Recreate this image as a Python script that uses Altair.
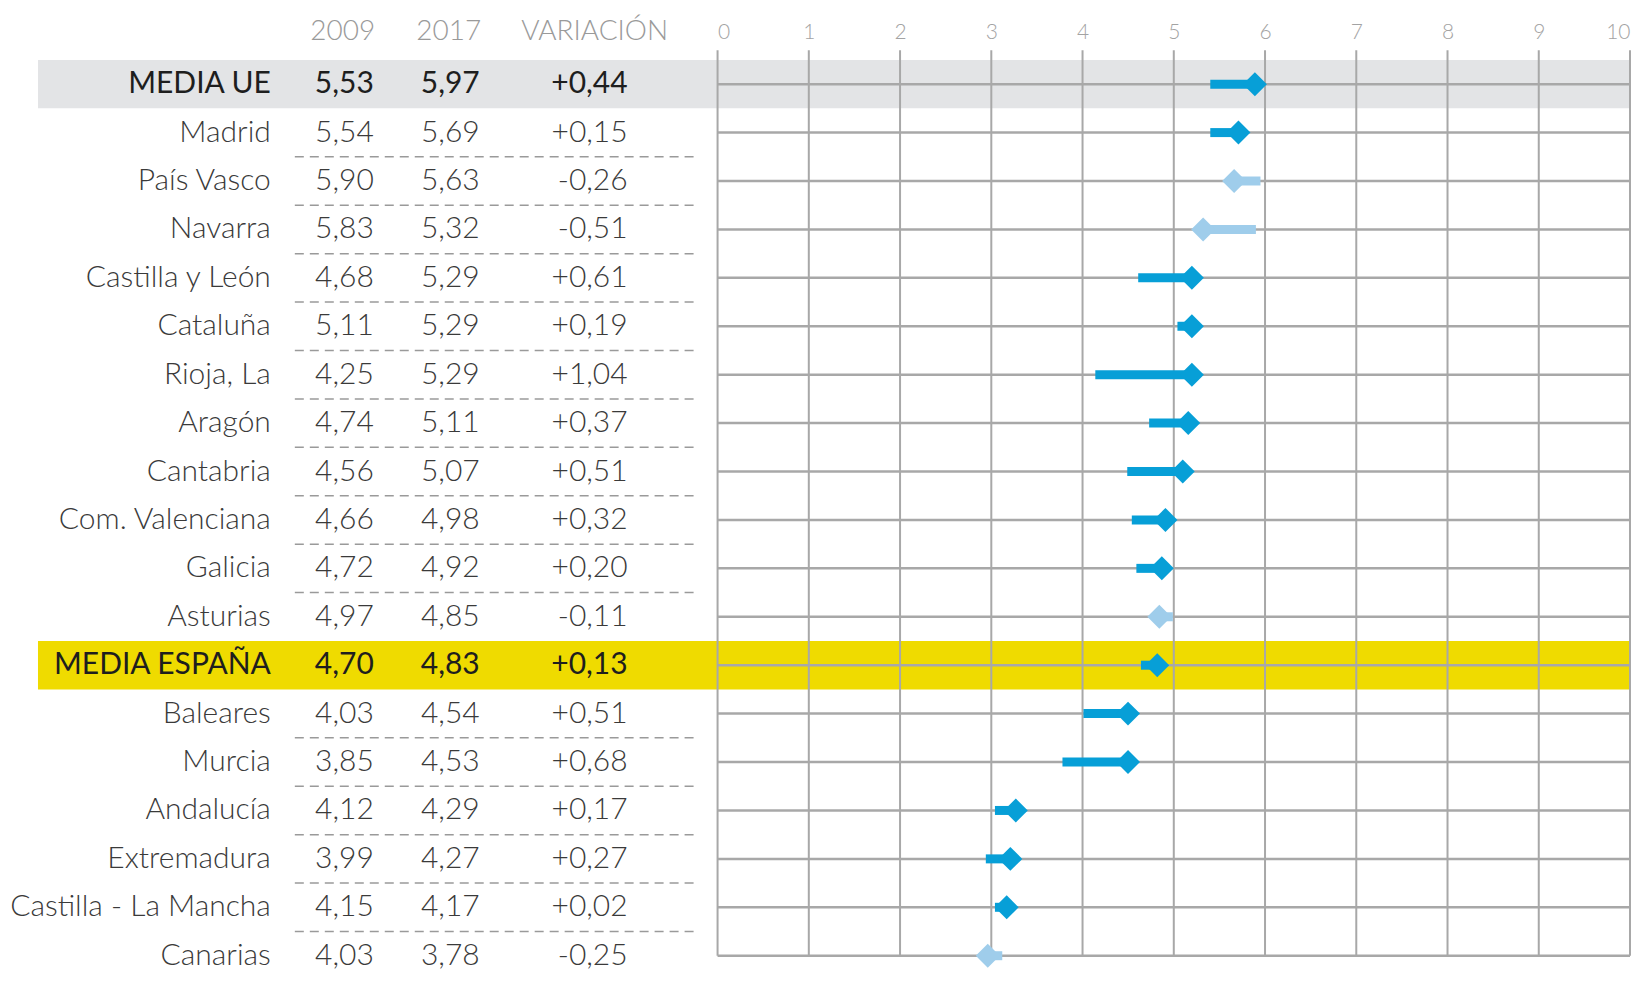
import altair as alt
import pandas as pd

regions = ["MEDIA UE", "Madrid", "País Vasco", "Navarra", "Castilla y León", "Cataluña",
           "Rioja, La", "Aragón", "Cantabria", "Com. Valenciana", "Galicia", "Asturias",
           "MEDIA ESPAÑA", "Baleares", "Murcia", "Andalucía", "Extremadura",
           "Castilla - La Mancha", "Canarias"]
v2009 = [5.53, 5.54, 5.90, 5.83, 4.68, 5.11, 4.25, 4.74, 4.56, 4.66, 4.72, 4.97,
         4.70, 4.03, 3.85, 4.12, 3.99, 4.15, 4.03]
v2017 = [5.97, 5.69, 5.63, 5.32, 5.29, 5.29, 5.29, 5.11, 5.07, 4.98, 4.92, 4.85,
         4.83, 4.54, 4.53, 4.29, 4.27, 4.17, 3.78]
variation = [0.44, 0.15, -0.26, -0.51, 0.61, 0.19, 1.04, 0.37, 0.51, 0.32, 0.20, -0.11,
             0.13, 0.51, 0.68, 0.17, 0.27, 0.02, -0.25]
# arrow start / tip positions as drawn in the picture
arrow_from = [5.40, 5.40, 5.95, 5.90, 4.61, 5.04, 4.14, 4.73, 4.49, 4.54, 4.59, 4.99,
              4.64, 4.01, 3.78, 3.04, 2.94, 3.04, 3.12]
arrow_to = [6.02, 5.84, 5.53, 5.19, 5.33, 5.33, 5.33, 5.29, 5.23, 5.04, 5.00, 4.71,
            4.95, 4.63, 4.63, 3.40, 3.34, 3.30, 2.83]
highlight_rows = ["MEDIA UE", "MEDIA ESPAÑA"]
highlight_colors = ["#e3e4e6", "#efdb00"]
headers = ["2009", "2017", "VARIACIÓN"]
ticks = list(range(0, 11))

def fmt(v, sign=False):
    s = f"{v:+.2f}" if sign else f"{v:.2f}"
    return s.replace(".", ",")

n = len(regions)
df = pd.DataFrame({
    "idx": list(range(n)),
    "region": regions,
    "t2009": [fmt(v) for v in v2009],
    "t2017": [fmt(v) for v in v2017],
    "tvar": [fmt(v, True) for v in variation],
    "afrom": arrow_from,
    "ato": arrow_to,
})
df["dir"] = ["up" if b >= a else "down" for a, b in zip(arrow_from, arrow_to)]
df["hl"] = df["region"].isin(highlight_rows)
df["lo"] = df["idx"] - 0.5
df["hi"] = df["idx"] + 0.5

# dashed separators between consecutive non-highlighted rows
sep = pd.DataFrame({"mid": [i + 0.5 for i in range(n - 1)
                            if regions[i] not in highlight_rows and regions[i + 1] not in highlight_rows]})

W, H = 913, 906
xs = alt.Scale(domain=[0, 10], nice=False, zero=False)
ys = alt.Scale(domain=[-0.7, 18], nice=False, zero=False, reverse=True)

FONT = "Lato"
base = alt.Chart(df)

bands = base.transform_filter("datum.hl").mark_rect().encode(
    y=alt.Y("lo:Q", scale=ys, axis=None), y2="hi:Q",
    x=alt.value(-680), x2=alt.value(W),
    color=alt.Color("region:N", scale=alt.Scale(domain=highlight_rows, range=highlight_colors), legend=None),
)

vgrid = alt.Chart(pd.DataFrame({"g": ticks})).mark_rule(color="#a8a8a8", strokeWidth=2).encode(
    x=alt.X("g:Q", scale=xs, axis=alt.Axis(orient="top", values=ticks, format="d", grid=False, ticks=False,
                                            domain=False, labelFontSize=21, labelColor="#a3a3a3",
                                            labelFont=FONT, labelFontWeight=300, labelPadding=8, title=None)),
    y=alt.value(0), y2=alt.value(H),
)

hgrid = base.mark_rule(color="#a8a8a8", strokeWidth=2.5).encode(
    y=alt.Y("idx:Q", scale=ys, axis=None), x=alt.value(0), x2=alt.value(W),
)

dashes = alt.Chart(sep).mark_rule(color="#9a9a9a", strokeWidth=1.5, strokeDash=[9, 6]).encode(
    y=alt.Y("mid:Q", scale=ys, axis=None), x=alt.value(-423), x2=alt.value(-21),
)

def text_layers(field, xpx):
    out = []
    for hl, weight, col in [(False, 300, "#3a3a3a"), (True, 400, "#1e1e1e")]:
        out.append(base.transform_filter(f"datum.hl == {str(hl).lower()}").mark_text(
            align="right", baseline="middle", font=FONT, fontSize=30, fontWeight=weight, color=col
        ).encode(x=alt.value(xpx), y=alt.Y("idx:Q", scale=ys, axis=None), text=f"{field}:N"))
    return out

texts = []
texts += text_layers("region", -447)
texts += text_layers("t2009", -344)
texts += text_layers("t2017", -238)
texts += text_layers("tvar", -90)

header_layers = []
for h, xpx in zip(headers, [-375, -269, -123]):
    header_layers.append(alt.Chart(pd.DataFrame({"h": [h]})).mark_text(
        align="center", baseline="middle", font=FONT, fontSize=28, fontWeight=300, color="#9a9a9a"
    ).encode(text="h:N", x=alt.value(xpx), y=alt.value(-18)))

DARK = "#079fd7"
LIGHT = "#9fcdeb"
HEAD_UP = "M0,0 L-1,-1 L-2,0 L-1,1 Z"
HEAD_DOWN = "M0,0 L1,-1 L2,0 L1,1 Z"

arrows = []
for d, col, off, shape in [("up", DARK, -12, HEAD_UP), ("down", LIGHT, 12, HEAD_DOWN)]:
    sub = base.transform_filter(f"datum.dir == '{d}'")
    arrows.append(sub.mark_rule(color=col, strokeWidth=9, x2Offset=off).encode(
        x=alt.X("afrom:Q", scale=xs), x2="ato:Q", y=alt.Y("idx:Q", scale=ys, axis=None)))
    arrows.append(sub.mark_point(shape=shape, size=576, filled=True, opacity=1, color=col, strokeWidth=0).encode(
        x=alt.X("ato:Q", scale=xs), y=alt.Y("idx:Q", scale=ys, axis=None)))

chart = alt.layer(bands, vgrid, hgrid, dashes, *texts, *header_layers, *arrows).properties(
    width=W, height=H,
    padding={"left": 710, "top": 42, "right": 12, "bottom": 20},
    autosize="none",
    background="white",
).configure_view(stroke=None)

chart.save("out.html", embed_options={"renderer": "svg", "actions": False})
